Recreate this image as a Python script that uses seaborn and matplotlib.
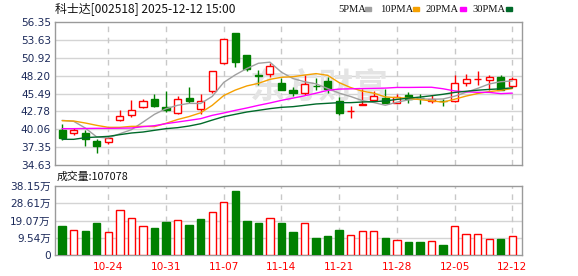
import matplotlib
matplotlib.use("Agg")
import matplotlib.pyplot as plt
import matplotlib.patches as mpatches
import seaborn as sns
import numpy as np
import pandas as pd

# ---------------- data ----------------
dates = ["10-20", "10-21", "10-22", "10-23", "10-24", "10-27", "10-28", "10-29", "10-30", "10-31",
         "11-03", "11-04", "11-05", "11-06", "11-07", "11-10", "11-11", "11-12", "11-13", "11-14",
         "11-17", "11-18", "11-19", "11-20", "11-21", "11-24", "11-25", "11-26", "11-27", "11-28",
         "12-01", "12-02", "12-03", "12-04", "12-05", "12-08", "12-09", "12-10", "12-11", "12-12"]

opens = [40.00, 39.44, 39.49, 38.28, 38.07, 41.52, 42.27, 43.39, 44.60, 43.39,
         42.48, 44.81, 43.08, 45.82, 50.17, 54.68, 51.34, 48.28, 48.50, 47.08,
         45.97, 45.51, 46.63, 47.34, 44.30, 42.84, 43.80, 44.55, 44.81, 44.10,
         45.21, 44.85, 44.30, 44.40, 44.30, 47.14, 47.70, 47.59, 48.00, 46.63]
highs = [40.86, 40.25, 39.90, 38.63, 38.98, 42.98, 44.50, 44.60, 45.46, 45.87,
         45.11, 46.48, 45.41, 48.90, 53.78, 54.70, 51.40, 49.01, 50.17, 47.84,
         46.43, 48.25, 47.84, 48.00, 44.91, 43.54, 46.12, 45.87, 46.17, 45.46,
         45.72, 45.46, 45.30, 44.71, 48.25, 48.40, 48.86, 48.25, 48.25, 48.00]
lows = [38.43, 39.14, 37.52, 36.50, 37.77, 41.26, 41.92, 43.30, 43.50, 42.68,
        42.38, 44.05, 42.43, 45.62, 50.00, 49.51, 48.86, 46.73, 48.00, 46.00,
        45.11, 45.21, 45.97, 45.57, 42.27, 41.82, 43.70, 44.20, 44.10, 44.00,
        44.10, 43.84, 44.05, 43.59, 44.20, 46.63, 46.83, 46.07, 45.97, 46.33]
closes = [38.78, 39.90, 38.63, 37.57, 38.78, 42.02, 42.93, 44.40, 43.54, 43.03,
          44.60, 44.40, 44.30, 48.86, 53.72, 50.32, 49.26, 48.22, 49.72, 46.07,
          45.51, 46.88, 46.58, 46.22, 42.58, 42.88, 43.86, 45.06, 44.10, 44.96,
          44.60, 44.80, 44.60, 44.35, 47.03, 47.64, 47.74, 47.95, 46.02, 47.64]

ma5 = [41.41, 41.26, 40.25, 38.88, 38.73, 39.38, 39.99, 41.14, 42.33, 43.18,
       43.70, 43.99, 43.97, 45.04, 47.18, 48.32, 49.29, 50.08, 50.25, 48.72,
       47.76, 47.28, 46.95, 46.25, 45.55, 45.03, 44.42, 44.12, 43.70, 44.17,
       44.52, 44.70, 44.61, 44.66, 45.08, 45.68, 46.27, 46.94, 47.28, 47.40]
ma10 = [41.36, 41.31, 41.01, 40.65, 40.35, 40.35, 40.50, 40.50, 40.46, 40.96,
        41.54, 41.99, 42.56, 43.69, 45.18, 46.01, 46.64, 47.03, 47.64, 47.95,
        48.04, 48.29, 48.51, 48.25, 47.14, 46.39, 45.85, 45.54, 44.97, 44.86,
        44.77, 44.56, 44.37, 44.18, 44.62, 45.10, 45.49, 45.78, 45.97, 46.24]
ma20 = [40.15, 40.15, 40.18, 40.20, 40.20, 40.22, 40.25, 40.45, 40.60, 40.91,
        41.16, 41.41, 41.67, 42.17, 42.53, 42.93, 43.29, 43.69, 44.05, 44.45,
        44.79, 45.14, 45.54, 45.97, 46.16, 46.20, 46.25, 46.28, 46.31, 46.41,
        46.41, 46.43, 46.44, 46.21, 45.88, 45.75, 45.67, 45.66, 45.47, 45.55]
ma30 = [38.53, 38.53, 38.78, 38.88, 38.98, 39.24, 39.49, 39.64, 39.90, 40.15,
        40.30, 40.55, 40.90, 41.45, 41.97, 42.33, 42.68, 42.93, 43.19, 43.39,
        43.49, 43.69, 43.90, 44.00, 44.10, 44.10, 44.20, 44.25, 44.36, 44.59,
        44.78, 44.95, 45.15, 45.37, 45.65, 45.83, 45.99, 46.11, 46.20, 46.35]

volume_wan = [16.0, 13.8, 13.3, 17.9, 12.7, 24.9, 20.3, 15.8, 14.9, 18.2,
              19.2, 16.6, 19.9, 23.6, 29.1, 35.4, 18.8, 17.9, 20.3, 17.9,
              12.7, 17.5, 9.4, 10.5, 13.8, 10.9, 13.3, 13.3, 9.4, 8.3,
              7.2, 7.2, 7.7, 5.5, 15.8, 11.6, 11.6, 8.8, 8.8, 10.71]
volume_up = [0, 1, 0, 0, 1, 1, 1, 1, 0, 0, 1, 0, 0, 1, 1, 0, 0, 0, 1, 0,
             0, 1, 0, 0, 0, 1, 1, 1, 0, 1, 0, 0, 1, 0, 1, 1, 1, 1, 0, 1]

price_ticks = [34.63, 37.35, 40.06, 42.78, 45.49, 48.20, 50.92, 53.63, 56.35]
vol_ticks = [0, 9.54, 19.07, 28.61, 38.15]
vol_tick_labels = ["0", "9.54万", "19.07万", "28.61万", "38.15万"]
date_ticks = ["10-24", "10-31", "11-07", "11-14", "11-21", "11-28", "12-05", "12-12"]
title_text = "科士达[002518] 2025-12-12 15:00"
vol_title = "成交量:107078"
ma_names = ["5PMA", "10PMA", "20PMA", "30PMA"]

# ---------------- style ----------------
sns.set_theme(style="white")
plt.rcParams["font.family"] = ["DejaVu Sans", "Noto Sans CJK SC"]

RED = "#ff0000"
GREEN = "#008000"
MA_COLORS = ["#a0a0a0", "#f5a000", "#ff00ff", "#006a2a"]
GRID = "#d4d4d4"
SPINE = "#9a9a9a"
LABEL = "#1c2a5a"

W, H = 578, 276
fig = plt.figure(figsize=(W / 100, H / 100), dpi=100)
ax = fig.add_axes([55 / W, 1 - 165 / H, 467 / W, 143 / H])
axv = fig.add_axes([55 / W, 1 - 255 / H, 467 / W, 69 / H])

df = pd.DataFrame({"date": dates, "open": opens, "high": highs, "low": lows,
                   "close": closes, "ma5": ma5, "ma10": ma10, "ma20": ma20,
                   "ma30": ma30, "vol": volume_wan, "vup": volume_up})
df["x"] = np.arange(len(df))
xlim = (-0.62, len(df) - 1 + 0.84)
tick_pos = [dates.index(d) for d in date_ticks]

for a in (ax, axv):
    a.set_xlim(*xlim)
    for s in a.spines.values():
        s.set_color(SPINE)
        s.set_linewidth(1.0)
    for p in tick_pos:
        a.axvline(p, color="#c8c8c8", lw=1.0, ls=(0, (4, 4)), zorder=0.5)

# watermark
ax.text(22.3, 46.4, "东方财富", ha="center", va="center", fontsize=25,
        fontweight="bold", color="#e4e4e4", family=["Noto Sans CJK SC"], zorder=0.6)

# ---- main candle panel ----
ax.set_ylim(price_ticks[0], price_ticks[-1])
ax.set_yticks(price_ticks)
ax.set_yticklabels([f"{v:.2f}" for v in price_ticks])
for v in price_ticks[1:-1]:
    ax.axhline(v, color=GRID, lw=1.0, zorder=0.4)
ax.tick_params(axis="y", length=0, pad=3, labelsize=7.6, labelcolor=LABEL)
ax.set_xticks([])

up = df["close"] >= df["open"]
ccol = np.where(up, RED, GREEN)
ax.vlines(df["x"], df["low"], df["high"], colors=ccol, lw=1.0, zorder=2)
bottoms = np.minimum(df["open"], df["close"])
heights = np.maximum((df["close"] - df["open"]).abs(), 0.03)
ax.bar(df["x"], heights, bottom=bottoms, width=0.62,
       color=np.where(up, "white", GREEN), edgecolor=ccol, linewidth=1.0, zorder=3)

for col, c in zip(["ma5", "ma10", "ma20", "ma30"], MA_COLORS):
    sns.lineplot(data=df, x="x", y=col, ax=ax, color=c, lw=1.0, zorder=4, legend=False)
ax.set_xlabel("")
ax.set_ylabel("")
ax.set_xlim(*xlim)

# ---- volume panel ----
axv.set_ylim(0, vol_ticks[-1])
axv.set_yticks(vol_ticks)
axv.set_yticklabels(vol_tick_labels)
for v in vol_ticks[1:-1]:
    axv.axhline(v, color=GRID, lw=1.0, zorder=0.4)
vcol = np.where(df["vup"] == 1, RED, GREEN)
axv.bar(df["x"], df["vol"], width=0.64,
        color=np.where(df["vup"] == 1, "white", GREEN), edgecolor=vcol,
        linewidth=1.0, zorder=3)
axv.set_xticks(tick_pos)
axv.set_xticklabels(date_ticks)
axv.tick_params(axis="x", length=0, pad=5, labelsize=7.6, labelcolor=RED)
axv.tick_params(axis="y", length=0, pad=3, labelsize=7.6, labelcolor=LABEL)
for lab in axv.get_yticklabels():
    lab.set_family(["DejaVu Sans", "Noto Sans CJK SC"])

# ---- texts ----
fig.text(55 / W, 1 - 9 / H, title_text, ha="left", va="center", fontsize=8.6,
         color="#111111", family=["Noto Sans CJK SC", "DejaVu Sans"])
fig.text(57 / W, 1 - 177 / H, vol_title, ha="left", va="center", fontsize=7.8,
         color="#111111", family=["Noto Sans CJK SC", "DejaVu Sans"])

leg_x = [338, 380, 425, 472]
sq_x = [365, 413, 460, 506]
for name, lx, sx, c in zip(ma_names, leg_x, sq_x, MA_COLORS):
    fig.text(lx / W, 1 - 9 / H, name, ha="left", va="center", fontsize=7.6,
             color="#111111", family=["Liberation Serif"])
    fig.patches.append(mpatches.Rectangle((sx / W, 1 - 11 / H), 6 / W, 4 / H,
                                          transform=fig.transFigure, color=c,
                                          figure=fig))

fig.savefig("out.png", dpi=100)
